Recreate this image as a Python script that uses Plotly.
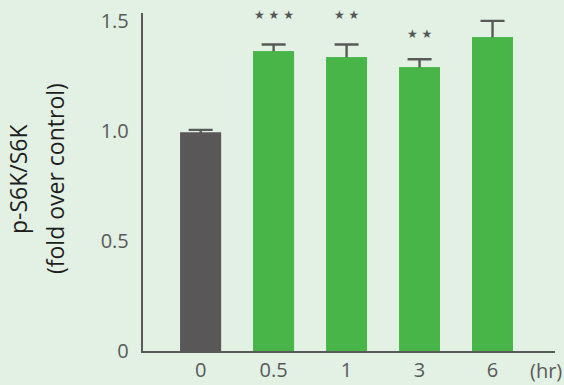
import plotly.graph_objects as go

# Time points (hr) and p-S6K/S6K levels (fold over control)
timepoints = ["0", "0.5", "1", "3", "6"]
fold_values = [0.993, 1.362, 1.335, 1.289, 1.426]
sem_values = [0.012, 0.031, 0.058, 0.037, 0.074]
significance = ["", "★ ★ ★", "★ ★", "★ ★", ""]
bar_colors = ["#595757", "#48b549", "#48b549", "#48b549", "#48b549"]

y_ticks = [0, 0.5, 1.0, 1.5]
y_tick_text = ["0", "0.5", "1.0", "1.5"]

BG = "#e2f1e3"
GRAY = "#595959"

xpos = list(range(len(timepoints)))

fig = go.Figure()
# bars carrying the SEM whiskers
fig.add_trace(go.Bar(
    x=xpos,
    y=fold_values,
    width=0.56,
    marker=dict(color=bar_colors, line=dict(width=0)),
    error_y=dict(
        type="data",
        array=sem_values,
        color=GRAY,
        thickness=2.4,
        width=12,
    ),
))
# same bars drawn again on top so only the upper whisker shows
fig.add_trace(go.Bar(
    x=xpos,
    y=fold_values,
    width=0.56,
    marker=dict(color=bar_colors, line=dict(width=0)),
))

# significance markers above the error bars
star_y = [None, 1.525, 1.525, 1.44, None]
for x, s, yv in zip(xpos, significance, star_y):
    if s:
        fig.add_annotation(
            x=x, y=yv, text=s, showarrow=False,
            font=dict(size=12, color="#555555", family="DejaVu Sans"),
            xanchor="center", yanchor="middle",
        )

# unit label at the end of the x axis
fig.add_annotation(
    x=1.0, xref="paper", y=0.0, yref="paper",
    text="(hr)", showarrow=False,
    font=dict(size=20, color=GRAY, family="Open Sans"),
    xanchor="center", yanchor="top", yshift=-4, xshift=-9,
)

# two-line y-axis title
title_lines = ["p-S6K/S6K", "(fold over control)"]
title_shifts = [-125, -88]
for line, shift in zip(title_lines, title_shifts):
    fig.add_annotation(
        x=0, xref="paper", y=0.5, yref="paper",
        text=line, showarrow=False, textangle=-90,
        font=dict(size=23, color="#1e1e1e", family="Open Sans"),
        xanchor="center", yanchor="middle", xshift=shift, yshift=3,
    )

fig.update_layout(
    width=564, height=385,
    margin=dict(l=143, r=9, t=13, b=34, autoexpand=False),
    paper_bgcolor=BG, plot_bgcolor=BG,
    showlegend=False,
    barmode="overlay",
    font=dict(family="Open Sans", color=GRAY, size=21),
    xaxis=dict(
        tickmode="array", tickvals=xpos, ticktext=timepoints,
        range=[-0.79, 4.856], automargin=False,
        showline=True, linecolor=GRAY, linewidth=2.4,
        ticks="", showgrid=False, zeroline=False,
        tickfont=dict(size=20, color=GRAY),
    ),
    yaxis=dict(
        tickmode="array", tickvals=y_ticks, ticktext=y_tick_text,
        range=[0, 1.536], automargin=False,
        showline=True, linecolor=GRAY, linewidth=2.4,
        ticks="", showgrid=False, zeroline=False,
        tickfont=dict(size=20, color=GRAY),
        ticklabelstandoff=8,
    ),
)

fig.write_html("out.html")
